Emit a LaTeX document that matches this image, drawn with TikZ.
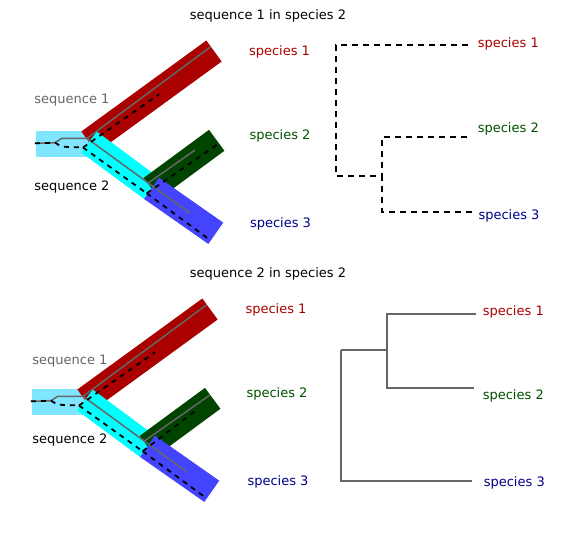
\documentclass[tikz,border=0pt]{standalone}
\usepackage{fontspec}
\setmainfont{DejaVu Sans}
\usetikzlibrary{positioning}

\definecolor{spred}{HTML}{AA0000}
\definecolor{spgreen}{HTML}{004400}
\definecolor{spblue}{HTML}{4444FF}
\definecolor{spcyan}{HTML}{00FFFF}
\definecolor{rootblue}{HTML}{80E5FF}
\definecolor{txtgreen}{HTML}{005000}
\definecolor{txtblue}{HTML}{000088}
\definecolor{seqgray}{HTML}{666666}

\begin{document}
\begin{tikzpicture}[x=1pt,y=-1pt,
  branch/.style={line width=26pt},
  seqa/.style={draw=seqgray, line width=1.5pt},
  seqb/.style={draw=black, line width=1.8pt, dash pattern=on 5pt off 5pt},
  treea/.style={draw=seqgray, line width=2pt},
  treeb/.style={draw=black, line width=2pt, dash pattern=on 6pt off 5pt},
  lbl/.style={font=\fontsize{13}{15}\selectfont, inner sep=0pt}]
  \useasboundingbox (0,0) rectangle (571,536);

  %titles
  \node[lbl] (titleone) at (268,16) {sequence 1 in species 2};
  \node[lbl] (titletwo) at (268,274) {sequence 2 in species 2};

  %upper species tree
  \coordinate (root) at (36,143.5);
  \coordinate (jone) at (89,142);
  \coordinate (jtwo) at (151.5,188.3);
  \draw[branch, rootblue] (root) -- (89,143.5);
  \draw[branch, spred] (jone) -- (214,51);
  \draw[branch, spcyan] (jone) -- (jtwo);
  \draw[branch, spgreen] (jtwo) -- (216.7,140.3);
  \draw[branch, spblue] (jtwo) -- (215.8,233.3);

  %upper sequence 1
  \coordinate (gone) at (87,138.3);
  \coordinate (gtwo) at (148.3,183);
  \draw[seqa] (35,143.3) -- (55,142.7) -- (61.7,138.3) -- (gone);
  \draw[seqa] (gone) -- (210.7,46.7);
  \draw[seqa] (gone) -- (gtwo);
  \draw[seqa] (gtwo) -- (195,150);
  \draw[seqa] (gtwo) -- (190,213.3);

  %upper sequence 2
  \coordinate (done) at (83,147.5);
  \coordinate (dtwo) at (146.7,193.3);
  \draw[seqb] (35,143.3) -- (55,142.7) -- (61.7,146.7) -- (done);
  \draw[seqb] (done) -- (159,94.3);
  \draw[seqb] (done) -- (dtwo);
  \draw[seqb] (dtwo) -- (216.7,145);
  \draw[seqb] (dtwo) -- (210,240);

  \node[lbl, text=seqgray] (seqone) at (72,100) {sequence 1};
  \node[lbl] (seqtwo) at (72,187) {sequence 2};
  \node[lbl, text=spred] (spone) at (279.5,52) {species 1};
  \node[lbl, text=txtgreen] (sptwo) at (280,136) {species 2};
  \node[lbl, text=txtblue] (spthree) at (280.5,224) {species 3};

  %upper gene tree
  \coordinate (troot) at (336,176);
  \coordinate (tin) at (382,176);
  \coordinate (tipone) at (468,45);
  \coordinate (tiptwo) at (467,137);
  \coordinate (tipthree) at (472,212);
  \draw[treeb] (tipone) -| (troot) -- (tin);
  \draw[treeb] (tiptwo) -| (tin);
  \draw[treeb] (tipthree) -| (tin);
  \node[lbl, text=spred] (gspone) at (508.3,44) {species 1};
  \node[lbl, text=txtgreen] (gsptwo) at (508.3,129) {species 2};
  \node[lbl, text=txtblue] (gspthree) at (509,216) {species 3};

  %lower species tree
  \begin{scope}[shift={(-4,258)}]
    \coordinate (root) at (36,143.5);
    \coordinate (jone) at (89,142);
    \coordinate (jtwo) at (151.5,188.3);
    \draw[branch, rootblue] (root) -- (89,143.5);
    \draw[branch, spred] (jone) -- (214,51);
    \draw[branch, spcyan] (jone) -- (jtwo);
    \draw[branch, spgreen] (jtwo) -- (216.7,140.3);
    \draw[branch, spblue] (jtwo) -- (215.8,233.3);

    %lower sequence 1
    \coordinate (gone) at (87,138.3);
    \coordinate (gtwo) at (148.3,183);
    \draw[seqa] (35,143.3) -- (55,142.7) -- (61.7,138.3) -- (gone);
    \draw[seqa] (gone) -- (210.7,46.7);
    \draw[seqa] (gone) -- (gtwo);
    \draw[seqa] (gtwo) -- (214,137);
    \draw[seqa] (gtwo) -- (190,213.3);

    %lower sequence 2
    \coordinate (done) at (83,147.5);
    \coordinate (dtwo) at (146.7,193.3);
    \draw[seqb] (35,143.3) -- (55,142.7) -- (61.7,146.7) -- (done);
    \draw[seqb] (done) -- (159,94.3);
    \draw[seqb] (done) -- (dtwo);
    \draw[seqb] (dtwo) -- (199,153);
    \draw[seqb] (dtwo) -- (210,240);
  \end{scope}

  \node[lbl, text=seqgray] (seqonelow) at (70,361) {sequence 1};
  \node[lbl] (seqtwolow) at (70,440) {sequence 2};
  \node[lbl, text=spred] (sponelow) at (276,310) {species 1};
  \node[lbl, text=txtgreen] (sptwolow) at (277,394) {species 2};
  \node[lbl, text=txtblue] (spthreelow) at (278,482) {species 3};

  %lower gene tree
  \coordinate (lroot) at (341,350);
  \coordinate (lin) at (387,350);
  \coordinate (lipone) at (476,314);
  \coordinate (liptwo) at (474,388);
  \coordinate (lipthree) at (472,481);
  \draw[treea] (lipone) -| (lin) -- (lroot);
  \draw[treea] (liptwo) -| (lin);
  \draw[treea] (lipthree) -| (lroot);
  \node[lbl, text=spred] (gsponelow) at (513.3,311.7) {species 1};
  \node[lbl, text=txtgreen] (gsptwolow) at (513.3,396) {species 2};
  \node[lbl, text=txtblue] (gspthreelow) at (514.3,483.3) {species 3};
\end{tikzpicture}
\end{document}
